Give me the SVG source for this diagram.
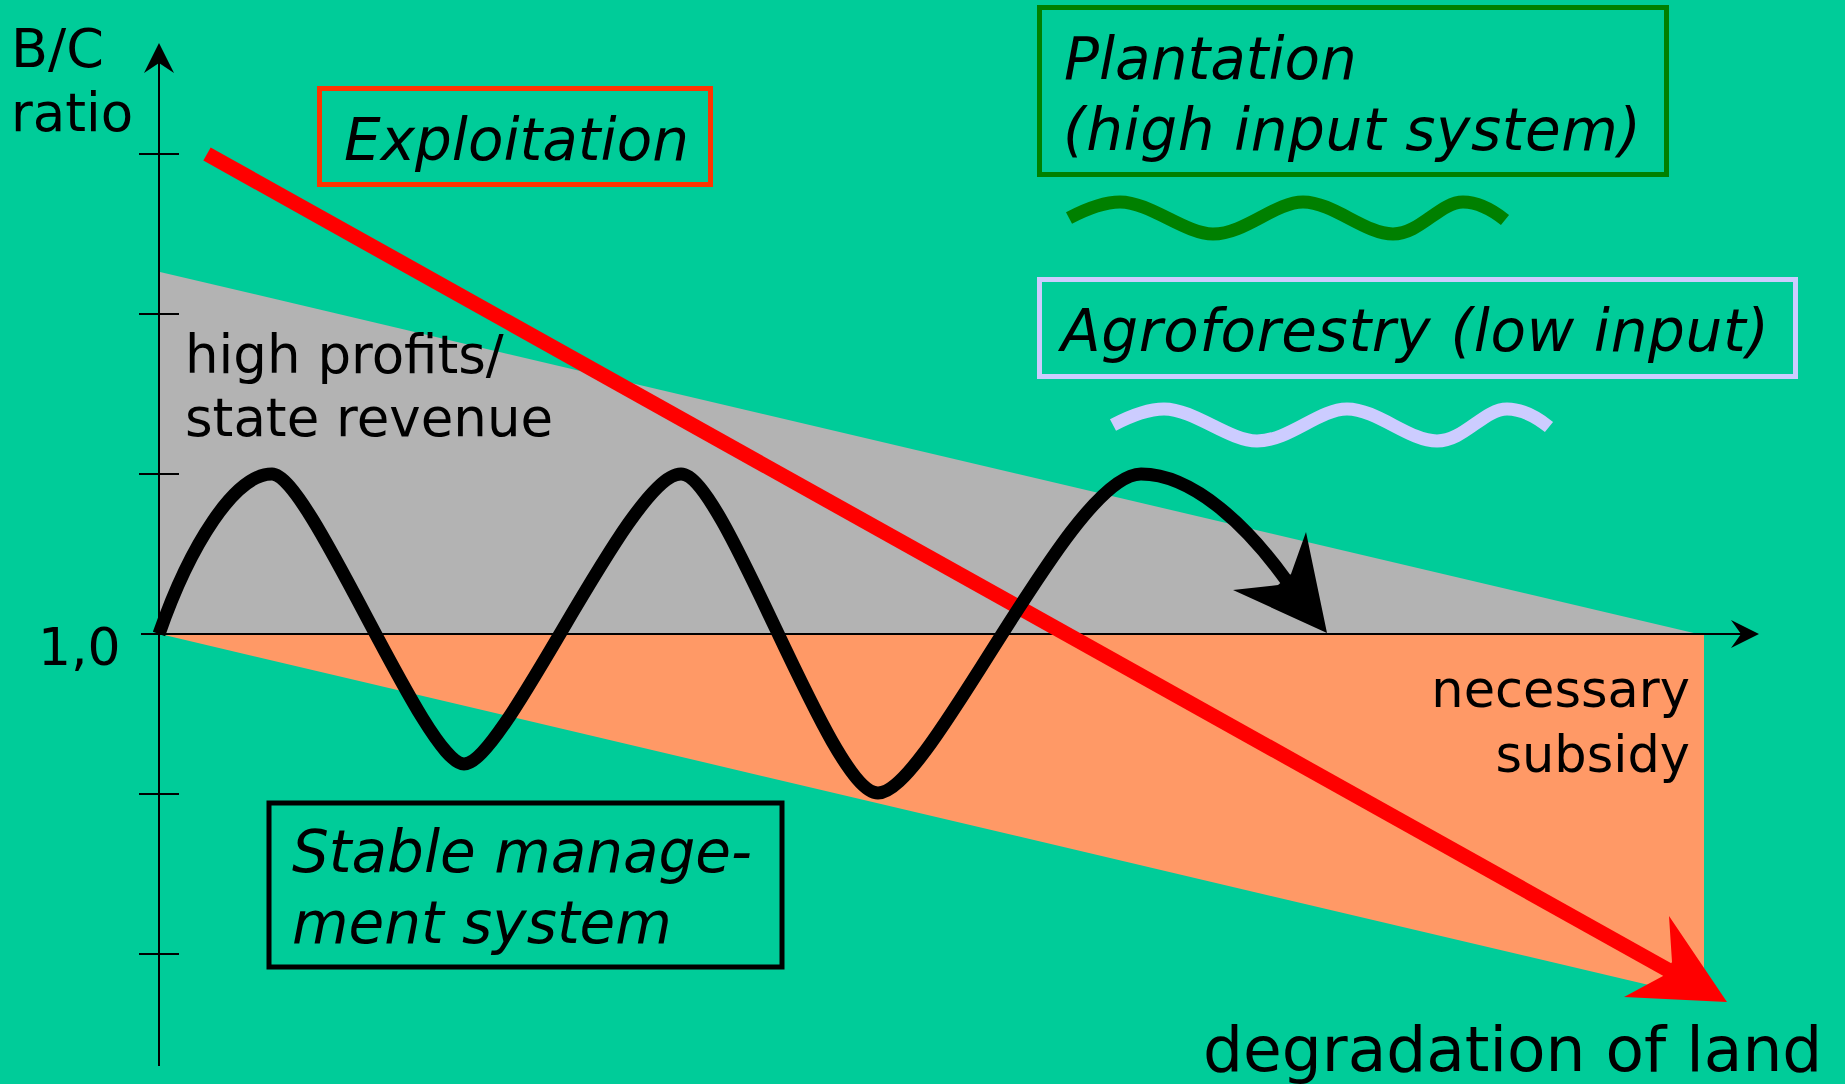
<svg xmlns="http://www.w3.org/2000/svg" xmlns:xlink="http://www.w3.org/1999/xlink" width="1845" height="1084" viewBox="0 0 1845 1084">
  <style>
    .lbl { font-family: "DejaVu Sans", Verdana, sans-serif; fill: #000; }
    .it { font-style: italic; font-size: 58px; }
    .axis { stroke: #000; stroke-width: 2; fill: none; }
    .box { fill: none; stroke-width: 5; }
  </style>
  <defs>
    <!-- wavy line used for the two land-use symbols -->
    <path id="wiggle" d="M1069,218 C1090,207 1105,202 1120,202 C1150,202 1185,234 1213,234 C1245,234 1275,202 1303,202 C1333,202 1365,234 1393,234 C1420,234 1440,202 1463,202 C1480,202 1495,212 1505,220" fill="none"/>
  </defs>

  <!-- background -->
  <rect x="0" y="0" width="1845" height="1084" fill="#00cc99"/>

  <!-- profit and subsidy areas -->
  <g id="areas">
    <polygon points="160,272 1698,634 160,634" fill="#b3b3b3"/>
    <polygon points="160,634 1704,634 1704,998" fill="#ff9966"/>
  </g>

  <!-- axes with ticks -->
  <g id="axes">
    <line class="axis" x1="159" y1="1066" x2="159" y2="60"/>
    <polygon points="159,43 144,73 159,63 174,73" fill="#000"/>
    <line class="axis" x1="141" y1="634" x2="1745" y2="634"/>
    <polygon points="1759,634 1731,620 1741,634 1731,648" fill="#000"/>
    <g class="axis">
      <line x1="139" y1="154" x2="179" y2="154"/>
      <line x1="139" y1="314" x2="179" y2="314"/>
      <line x1="139" y1="474" x2="179" y2="474"/>
      <line x1="139" y1="794" x2="179" y2="794"/>
      <line x1="139" y1="954" x2="179" y2="954"/>
    </g>
  </g>

  <g id="axis-labels" class="lbl">
    <text x="11" y="67" font-size="54">B/C</text>
    <text x="11" y="131" font-size="53">ratio</text>
    <text x="38" y="665" font-size="52">1,0</text>
    <text x="1203" y="1071" font-size="63">degradation of land</text>
  </g>

  <g id="area-labels" class="lbl" font-size="53">
    <text x="185" y="373">high profits/</text>
    <text x="185" y="436">state revenue</text>
    <text x="1690" y="707" text-anchor="end" font-size="51">necessary</text>
    <text x="1690" y="772" text-anchor="end" font-size="51">subsidy</text>
  </g>

  <!-- connectors: trajectories of the systems -->
  <g id="connectors">
    <!-- exploitation: steady decline -->
    <line x1="207" y1="154" x2="1668" y2="970" stroke="#ff0000" stroke-width="15"/>
    <polygon points="1727,1002 1669,916 1672,962 1663,976 1624,997" fill="#ff0000"/>
    <!-- stable management: oscillation -->
    <path d="M159,634 C190,545 235,474 272,474 C310,474 425,764 464,764 C505,764 630,474 681,474 C725,474 830,793 878,793 C930,793 1070,474 1141,474 C1195,474 1250,530 1286,580" fill="none" stroke="#000" stroke-width="13"/>
    <polygon points="1327,633 1306,532 1291,574 1278,585 1233,590" fill="#000"/>
    <!-- plantation and agroforestry symbols -->
    <use xlink:href="#wiggle" stroke="#008000" stroke-width="13"/>
    <use xlink:href="#wiggle" transform="translate(44,207)" stroke="#ccccff" stroke-width="13"/>
  </g>

  <g id="exploitation">
    <rect class="box" x="319.5" y="88.5" width="391" height="96" stroke="#ff3300"/>
    <text class="lbl it" x="344" y="160">Exploitation</text>
  </g>

  <g id="plantation">
    <rect class="box" x="1039.5" y="7.5" width="627" height="167" stroke="#008000"/>
    <text class="lbl it" x="1064" y="79">Plantation</text>
    <text class="lbl it" x="1063" y="150" textLength="578" lengthAdjust="spacing">(high input system)</text>
  </g>

  <g id="agroforestry">
    <rect class="box" x="1039.5" y="279.5" width="756" height="97" stroke="#ccccff"/>
    <text class="lbl it" x="1061" y="351" textLength="708" lengthAdjust="spacing">Agroforestry (low input)</text>
  </g>

  <g id="stable-management">
    <rect class="box" x="269" y="803" width="513" height="164" stroke="#000" stroke-width="6"/>
    <text class="lbl it" x="292" y="872">Stable manage-</text>
    <text class="lbl it" x="292" y="943">ment system</text>
  </g>
</svg>
